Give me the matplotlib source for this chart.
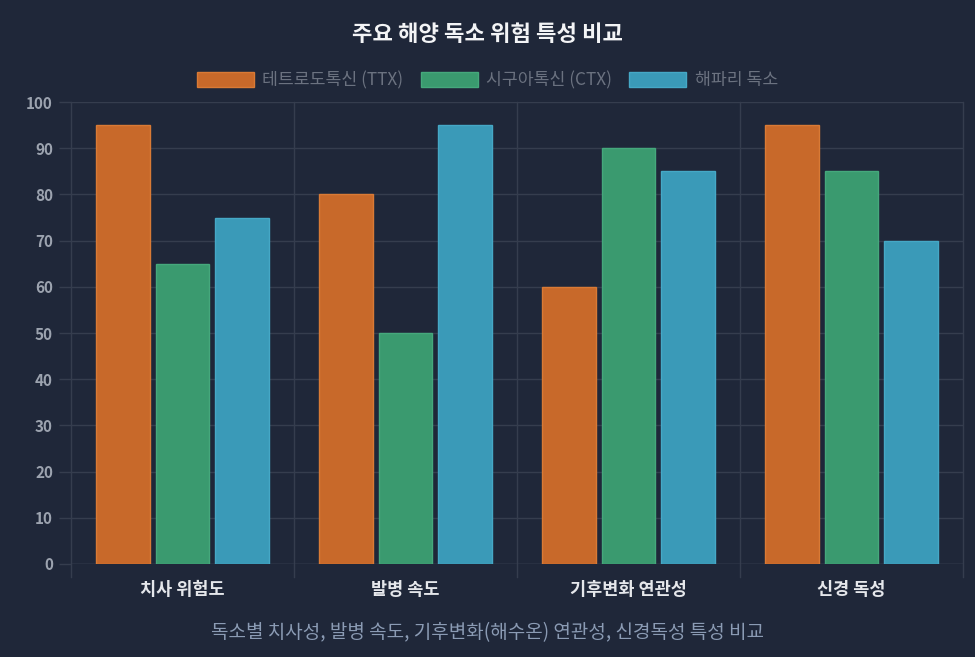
import numpy as np
import matplotlib.pyplot as plt
from matplotlib.patches import Patch

plt.rcParams['font.family'] = ['Noto Sans CJK KR', 'DejaVu Sans']

categories = ['치사 위험도', '발병 속도', '기후변화 연관성', '신경 독성']
series_names = ['테트로도톡신 (TTX)', '시구아톡신 (CTX)', '해파리 독소']
ttx = [95, 80, 60, 95]
ctx = [65, 50, 90, 85]
jelly = [75, 95, 85, 70]
colors = ['#c8692a', '#3a9a6f', '#3a9ab8']
edges = ['#d97a35', '#45a87c', '#45a8c6']

bg = '#1f2739'
grid_c = '#353d4e'

fig = plt.figure(figsize=(9.75, 6.57), dpi=100, facecolor=bg)
ax = fig.add_axes([0.0728, 0.1416, 0.915, 0.7031], facecolor=bg)

x = np.arange(len(categories))
slot = 0.8 / 3
bw = slot * 0.9
for i, vals in enumerate([ttx, ctx, jelly]):
    ax.bar(x + (i - 1) * slot, vals, bw, color=colors[i], edgecolor=edges[i],
           linewidth=1, zorder=3)

ax.set_xlim(-0.5, len(categories) - 0.5)
ax.set_ylim(0, 100)
ax.set_yticks(range(0, 101, 10))
ax.set_xticks(x)
ax.set_xticklabels(categories, fontsize=12.6, fontweight='bold', color='#e5e7eb')
ax.tick_params(axis='y', colors='#9ca3af', labelsize=11, length=9, width=1, pad=4)
ax.tick_params(axis='x', length=0, pad=12)
for lab in ax.get_yticklabels():
    lab.set_fontweight('bold')
    lab.set_color('#9ca3af')
ax.tick_params(axis='y', color=grid_c)

ax.grid(axis='y', color=grid_c, linewidth=1, zorder=0)
# vertical lines between categories
for b in np.arange(-0.5, len(categories), 1.0):
    ax.axvline(b, color=grid_c, linewidth=1, zorder=0, ymin=-0.028, clip_on=False)
for s in ax.spines.values():
    s.set_visible(False)
ax.axhline(0, color='#3f4758', linewidth=1, zorder=2)

fig.text(0.5, 0.948, '주요 해양 독소 위험 특성 비교', ha='center', va='center',
         fontsize=16, fontweight='bold', color='#f3f4f6')

handles = [Patch(facecolor=colors[i], edgecolor=edges[i], label=series_names[i]) for i in range(3)]
leg = fig.legend(handles=handles, loc='center', bbox_to_anchor=(0.5, 0.878), ncol=3,
                 frameon=False, fontsize=12.4, handlelength=3.3, handleheight=1.0,
                 columnspacing=1.0, handletextpad=0.5)
for t in leg.get_texts():
    t.set_color('#6b7280')

fig.text(0.5, 0.037, '독소별 치사성, 발병 속도, 기후변화(해수온) 연관성, 신경독성 특성 비교',
         ha='center', va='center', fontsize=13.7, color='#8b9bb4')

fig.savefig('out.png', dpi=100, facecolor=bg)
